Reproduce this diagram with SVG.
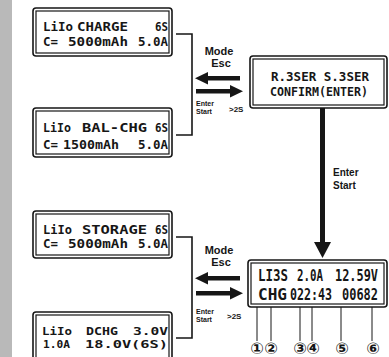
<svg xmlns="http://www.w3.org/2000/svg" width="389" height="357" viewBox="0 0 389 357">
<style>
.o{fill:#fff;stroke:#161616;stroke-width:1.6}
.i{fill:none;stroke:#161616;stroke-width:1.2}
.l{font-family:"DejaVu Sans Mono",monospace;font-weight:bold;font-size:13px;fill:#161616}
.k{font-family:"DejaVu Sans Mono",monospace;font-weight:bold;font-size:11.5px;fill:#161616}
.m{font-family:"DejaVu Sans Mono",monospace;font-weight:bold;font-size:11px;fill:#161616}
.b{font-family:"DejaVu Sans Mono",monospace;font-weight:bold;font-size:15px;fill:#161616}
.s{font-family:"Liberation Sans",Arial,sans-serif;font-weight:bold;fill:#161616}
.c{fill:none;stroke:#161616;stroke-width:1.6}
.p{stroke:#161616;stroke-width:1}
.n{font-family:"DejaVu Sans",sans-serif;font-weight:bold;font-size:16px;fill:#161616;text-anchor:middle}
</style>
<rect x="0" y="0" width="12" height="357" fill="#b9b9b9"/>

<g id="connectors">
<path class="c" d="M176,34 H192 V135 H176"/>
<path class="c" d="M176,237 H192 V338 H176"/>
<rect x="205" y="76" width="35" height="4.5" fill="#161616"/>
<polygon points="195,78.2 208,72 208,84.5" fill="#161616"/>
<rect x="196" y="89" width="36" height="4.5" fill="#161616"/>
<polygon points="243,91.2 230,85 230,97.5" fill="#161616"/>
<rect x="205" y="276" width="35" height="4.5" fill="#161616"/>
<polygon points="195,278.2 208,272 208,284.5" fill="#161616"/>
<rect x="196" y="291" width="36" height="4.5" fill="#161616"/>
<polygon points="243,293.2 230,287 230,299.5" fill="#161616"/>
<rect x="320" y="108" width="5" height="136" fill="#161616"/>
<polygon points="314,242 331,242 322.5,258" fill="#161616"/>
<text class="s" x="219" y="55" font-size="11" text-anchor="middle">Mode</text>
<text class="s" x="221" y="67" font-size="11" text-anchor="middle">Esc</text>
<text class="s" x="196" y="106" font-size="7">Enter</text>
<text class="s" x="196" y="114" font-size="7">Start</text>
<text class="s" x="229" y="112" font-size="8">&gt;2S</text>
<text class="s" x="219" y="254" font-size="11" text-anchor="middle">Mode</text>
<text class="s" x="221" y="266" font-size="11" text-anchor="middle">Esc</text>
<text class="s" x="196" y="314" font-size="7">Enter</text>
<text class="s" x="196" y="322" font-size="7">Start</text>
<text class="s" x="227" y="319" font-size="8">&gt;2S</text>
<text class="s" x="333" y="176" font-size="10">Enter</text>
<text class="s" x="333" y="189" font-size="10">Start</text>
<line class="p" x1="257" y1="272" x2="257" y2="341"/>
<line class="p" x1="271" y1="301" x2="271" y2="341"/>
<line class="p" x1="300" y1="301" x2="300" y2="341"/>
<line class="p" x1="312" y1="283" x2="312" y2="341"/>
<line class="p" x1="341" y1="284" x2="341" y2="341"/>
<line class="p" x1="372" y1="301" x2="372" y2="341"/>
</g>

<g id="box-charge">
<rect class="o" x="33" y="8" width="139" height="48" rx="3"/>
<rect class="i" x="36" y="11" width="133" height="42"/>
<text class="l" x="43" y="31" textLength="30" lengthAdjust="spacingAndGlyphs">LiIo</text>
<text class="l" x="77" y="31" textLength="51" lengthAdjust="spacingAndGlyphs">CHARGE</text>
<text class="l" x="155" y="31" textLength="13" lengthAdjust="spacingAndGlyphs">6S</text>
<text class="l" x="43" y="46" textLength="15" lengthAdjust="spacingAndGlyphs">C=</text>
<text class="l" x="68" y="46" textLength="60" lengthAdjust="spacingAndGlyphs">5000mAh</text>
<text class="l" x="138" y="46" textLength="30" lengthAdjust="spacingAndGlyphs">5.0A</text>
</g>

<g id="box-balchg">
<rect class="o" x="33" y="108" width="139" height="49" rx="3"/>
<rect class="i" x="36" y="111" width="133" height="43"/>
<text class="l" x="43" y="132" textLength="28" lengthAdjust="spacingAndGlyphs">LiIo</text>
<text class="l" x="82" y="132" textLength="65" lengthAdjust="spacingAndGlyphs">BAL-CHG</text>
<text class="l" x="155" y="132" textLength="13" lengthAdjust="spacingAndGlyphs">6S</text>
<text class="l" x="43" y="149" textLength="15" lengthAdjust="spacingAndGlyphs">C=</text>
<text class="l" x="63" y="149" textLength="56" lengthAdjust="spacingAndGlyphs">1500mAh</text>
<text class="l" x="138" y="149" textLength="30" lengthAdjust="spacingAndGlyphs">5.0A</text>
</g>

<g id="box-confirm">
<rect class="o" x="250" y="56" width="137" height="52" rx="3"/>
<rect class="i" x="253" y="59" width="131" height="46"/>
<text class="l" x="271" y="81" textLength="98" lengthAdjust="spacingAndGlyphs">R.3SER S.3SER</text>
<text class="l" x="270" y="96" textLength="98" lengthAdjust="spacingAndGlyphs">CONFIRM(ENTER)</text>
</g>

<g id="box-storage">
<rect class="o" x="33" y="211" width="139" height="47" rx="3"/>
<rect class="i" x="36" y="214" width="133" height="41"/>
<text class="k" x="43" y="234" textLength="29" lengthAdjust="spacingAndGlyphs">LiIo</text>
<text class="k" x="82" y="234" textLength="65" lengthAdjust="spacingAndGlyphs">STORAGE</text>
<text class="k" x="155" y="234" textLength="13" lengthAdjust="spacingAndGlyphs">6S</text>
<text class="k" x="43" y="248" textLength="15" lengthAdjust="spacingAndGlyphs">C=</text>
<text class="k" x="68" y="248" textLength="60" lengthAdjust="spacingAndGlyphs">5000mAh</text>
<text class="k" x="138" y="248" textLength="30" lengthAdjust="spacingAndGlyphs">5.0A</text>
</g>

<g id="box-dchg">
<rect class="o" x="33" y="312" width="139" height="52" rx="3"/>
<rect class="i" x="36" y="315" width="133" height="46"/>
<text class="m" x="42" y="335" textLength="30" lengthAdjust="spacingAndGlyphs">LiIo</text>
<text class="m" x="86" y="335" textLength="32" lengthAdjust="spacingAndGlyphs">DCHG</text>
<text class="m" x="133" y="335" textLength="35" lengthAdjust="spacingAndGlyphs">3.0V</text>
<text class="m" x="43" y="348" textLength="27" lengthAdjust="spacingAndGlyphs">1.0A</text>
<text class="m" x="85" y="348" textLength="83" lengthAdjust="spacingAndGlyphs">18.0V(6S)</text>
</g>

<g id="box-status">
<rect class="o" x="248" y="260" width="139" height="47" rx="3"/>
<rect class="i" x="251" y="263" width="133" height="41"/>
<text class="b" x="258" y="281" textLength="30" lengthAdjust="spacingAndGlyphs">LI3S</text>
<text class="b" x="297" y="281" textLength="26" lengthAdjust="spacingAndGlyphs">2.0A</text>
<text class="b" x="335" y="281" textLength="43" lengthAdjust="spacingAndGlyphs">12.59V</text>
<text class="b" x="258" y="300" textLength="29" lengthAdjust="spacingAndGlyphs">CHG</text>
<text class="b" x="290" y="300" textLength="42" lengthAdjust="spacingAndGlyphs">022:43</text>
<text class="b" x="342" y="300" textLength="36" lengthAdjust="spacingAndGlyphs">00682</text>
</g>

<g id="callouts">
<text class="n" x="257" y="354">①</text>
<text class="n" x="271" y="354">②</text>
<text class="n" x="300" y="354">③</text>
<text class="n" x="313" y="354">④</text>
<text class="n" x="342" y="354">⑤</text>
<text class="n" x="373" y="354">⑥</text>
</g>
</svg>
